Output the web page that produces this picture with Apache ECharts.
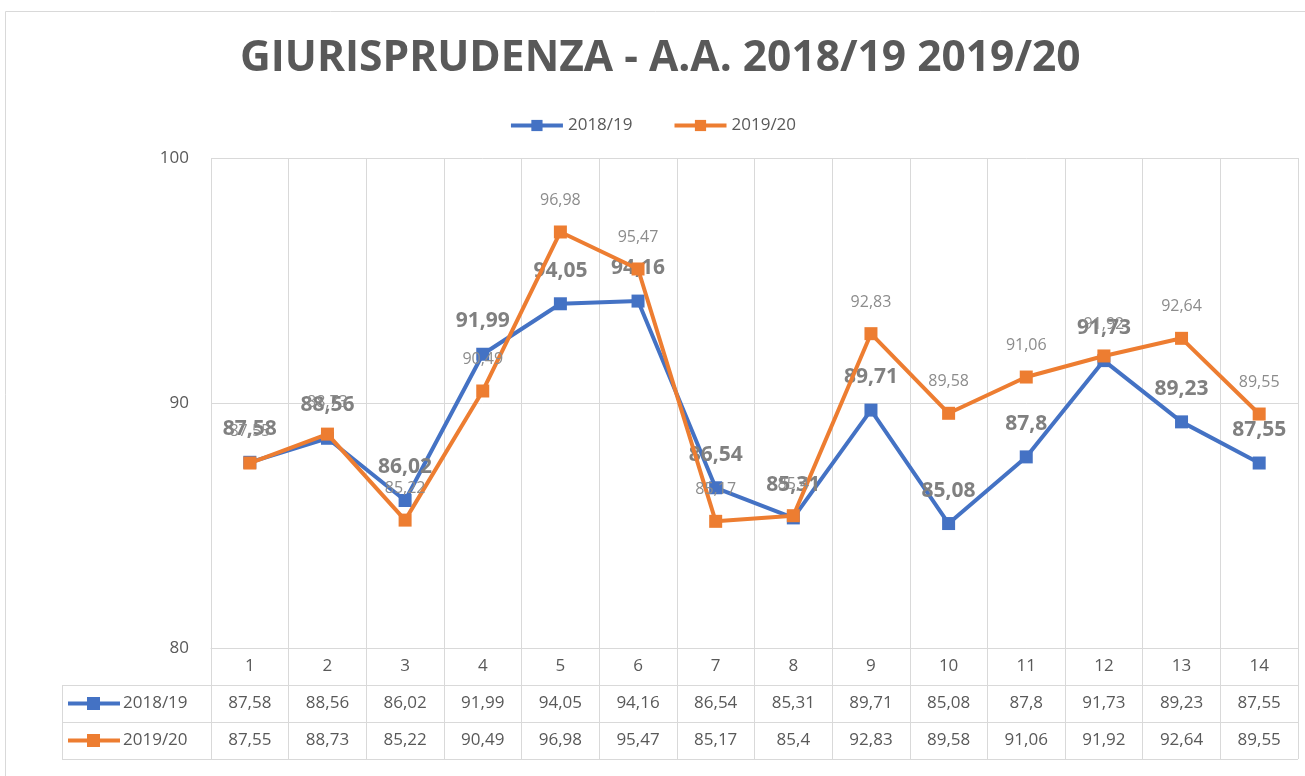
<!DOCTYPE html>
<html>
<head>
<meta charset="utf-8">
<script src="https://cdn.jsdelivr.net/npm/echarts@6/dist/echarts.min.js"></script>
<style>
html,body{margin:0;padding:0;background:#fff;}
#chart{width:1305px;height:776px;}
</style>
</head>
<body>
<div id="chart"></div>
<script>
const categories = ['1','2','3','4','5','6','7','8','9','10','11','12','13','14'];
const seriesNames = ['2018/19', '2019/20'];
const values1819 = [87.58, 88.56, 86.02, 91.99, 94.05, 94.16, 86.54, 85.31, 89.71, 85.08, 87.8, 91.73, 89.23, 87.55];
const values1920 = [87.55, 88.73, 85.22, 90.49, 96.98, 95.47, 85.17, 85.4, 92.83, 89.58, 91.06, 91.92, 92.64, 89.55];
const yMin = 80, yMax = 100, yInterval = 10;
const titleText = 'GIURISPRUDENZA - A.A. 2018/19 2019/20';

const BLUE = '#4472C4', ORANGE = '#ED7D31';
const FONT = '"Open Sans", sans-serif';
const fmt = v => String(v).replace('.', ',');

const chart = echarts.init(document.getElementById('chart'));

const G = {left: 211, right: 7, top: 158, bottom: 128};
const W = 1305, H = 776;
const plotRight = W - G.right;
const axisY = H - G.bottom;
const rowH = 37;
const tableLeft = 62;
const lineCol = '#d9d9d9';

function rowHeader(y, name, color) {
  return [
    {type: 'line', shape: {x1: 68, y1: y, x2: 120, y2: y}, style: {stroke: color, lineWidth: 4}},
    {type: 'rect', shape: {x: 87, y: y - 6.5, width: 13, height: 13}, style: {fill: color}},
    {type: 'text', x: 123, y: y, style: {text: name, font: '17px ' + FONT, fill: '#595959', verticalAlign: 'middle'}}
  ];
}

const graphics = [
  {type: 'rect', shape: {x: 5.5, y: 11.5, width: 1400, height: 900}, style: {fill: 'none', stroke: lineCol, lineWidth: 1}, z: -1},
  {type: 'line', shape: {x1: tableLeft, y1: axisY + rowH + 0.5, x2: plotRight, y2: axisY + rowH + 0.5}, style: {stroke: lineCol, lineWidth: 1}},
  {type: 'line', shape: {x1: tableLeft, y1: axisY + 2*rowH + 0.5, x2: plotRight, y2: axisY + 2*rowH + 0.5}, style: {stroke: lineCol, lineWidth: 1}},
  {type: 'line', shape: {x1: tableLeft, y1: axisY + 3*rowH + 0.5, x2: plotRight, y2: axisY + 3*rowH + 0.5}, style: {stroke: lineCol, lineWidth: 1}},
  {type: 'line', shape: {x1: tableLeft + 0.5, y1: axisY + rowH, x2: tableLeft + 0.5, y2: axisY + 3*rowH}, style: {stroke: lineCol, lineWidth: 1}},
  ...rowHeader(axisY + rowH * 1.5, seriesNames[0], BLUE),
  ...rowHeader(axisY + rowH * 2.5, seriesNames[1], ORANGE)
];

const option = {
  backgroundColor: '#fff',
  animation: false,
  title: {
    text: titleText,
    left: 235,
    top: 32,
    textStyle: {fontFamily: FONT, fontSize: 42.5, fontWeight: 'bold', color: '#595959'}
  },
  legend: {
    data: seriesNames,
    top: 112,
    left: 'center',
    itemWidth: 52,
    itemHeight: 14,
    itemGap: 40,
    lineStyle: {width: 4},
    textStyle: {fontFamily: FONT, fontSize: 17, color: '#595959'}
  },
  grid: G,
  xAxis: {
    type: 'category',
    data: categories,
    boundaryGap: true,
    axisLine: {show: true, lineStyle: {color: lineCol}},
    axisTick: {show: true, length: rowH * 3, interval: 0, lineStyle: {color: lineCol}},
    splitLine: {show: true, interval: 0, lineStyle: {color: lineCol}},
    axisLabel: {
      interval: 0,
      margin: 0,
      formatter: (val, idx) => `{c|${val}}\n{a|${fmt(values1819[idx])}}\n{b|${fmt(values1920[idx])}}`,
      rich: {
        c: {fontFamily: FONT, fontSize: 17, color: '#595959', lineHeight: rowH},
        a: {fontFamily: FONT, fontSize: 17, color: '#595959', lineHeight: rowH},
        b: {fontFamily: FONT, fontSize: 17, color: '#595959', lineHeight: rowH}
      }
    }
  },
  yAxis: {
    type: 'value',
    min: yMin, max: yMax, interval: yInterval,
    axisLine: {show: false},
    axisTick: {show: false},
    splitLine: {lineStyle: {color: lineCol}},
    axisLabel: {fontFamily: FONT, fontSize: 17, color: '#595959', margin: 22}
  },
  series: [
    {
      name: seriesNames[0], type: 'line', data: values1819,
      symbol: 'rect', symbolSize: 13,
      itemStyle: {color: BLUE},
      lineStyle: {color: BLUE, width: 4},
      label: {show: true, position: 'top', distance: 16, formatter: p => fmt(p.value),
        fontFamily: FONT, fontSize: 21, fontWeight: 'bold', color: '#808080'},
      z: 2
    },
    {
      name: seriesNames[1], type: 'line', data: values1920,
      symbol: 'rect', symbolSize: 13,
      itemStyle: {color: ORANGE},
      lineStyle: {color: ORANGE, width: 4},
      label: {show: true, position: 'top', distance: 17, formatter: p => fmt(p.value),
        fontFamily: FONT, fontSize: 16, color: '#8c8c8c'},
      z: 3
    }
  ],
  graphic: graphics
};
chart.setOption(option);
</script>
</body>
</html>
